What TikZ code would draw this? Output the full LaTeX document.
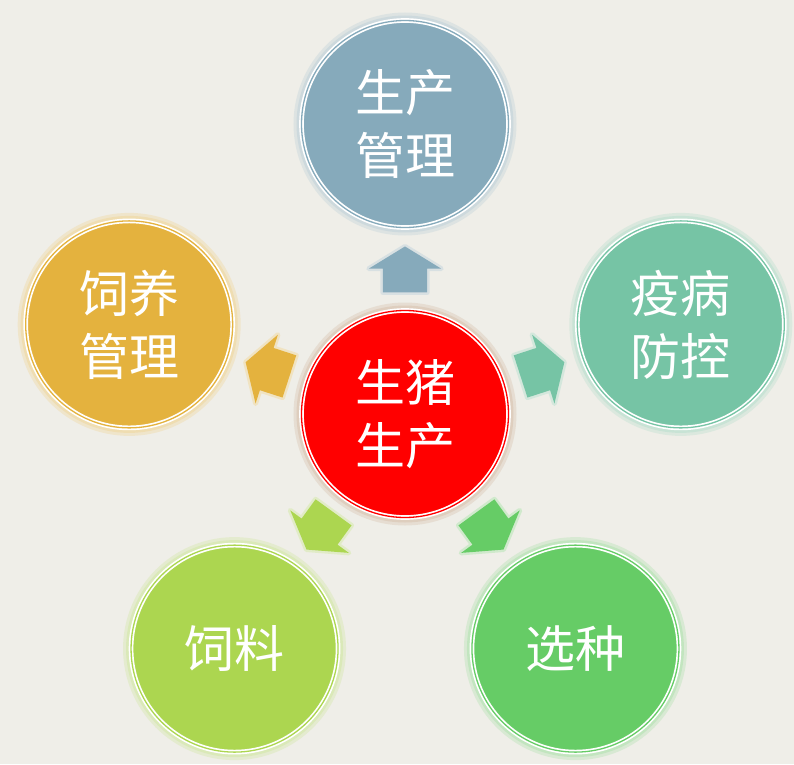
\documentclass[tikz,border=0pt]{standalone}
\usepackage{fontspec}
\newfontfamily\cjk{Noto Sans CJK SC}
\usepackage{tikz}
\usetikzlibrary{shapes.arrows,calc}
\definecolor{paper}{HTML}{EFEEE8}
\definecolor{pigred}{HTML}{FF0000}
\definecolor{halotan}{HTML}{D2B8A0}
\definecolor{prodblue}{HTML}{86AABB}
\definecolor{vetteal}{HTML}{76C4A5}
\definecolor{feedgold}{HTML}{E4B23E}
\definecolor{fodderlime}{HTML}{ACD650}
\definecolor{breedgreen}{HTML}{66CC66}

\begin{document}
\begin{tikzpicture}
[
x=1pt, y=1pt,
ring/.style 2 args={circle, fill=#1, minimum size=207pt, inner sep=0pt, text=white, align=center,
  font=\cjk\fontsize{50}{63}\selectfont, draw=white, line width=1.7pt, double=#1, double distance=1.3pt,
  preaction={draw=#2, draw opacity=.3, line width=16pt},
  preaction={draw=#2, draw opacity=.4, line width=10pt}},
hub/.style={ring={pigred}{halotan}},
spoke/.style={ring={#1}{#1!60}},
push/.style={single arrow, fill=#1, minimum height=46pt, inner xsep=0pt, inner ysep=22pt,
  single arrow head extend=14pt, single arrow tip angle=117, line join=round,
  preaction={draw=#1!50, draw opacity=.5, line width=5pt}}
]
\fill[paper] (-405,-350) rectangle (389,414);
\useasboundingbox (-405,-350) rectangle (389,414);

%Nodes
\node[hub]                (pig)                 {生猪\\生产};
\node[spoke=prodblue]     (prod)   at (90:290)  {生产\\管理};
\node[spoke=vetteal]      (vet)    at (18:290)  {疫病\\防控};
\node[spoke=feedgold]     (care)   at (162:290) {饲养\\管理};
\node[spoke=fodderlime]   (fodder) at (234:290) {饲料};
\node[spoke=breedgreen]   (breed)  at (306:290) {选种};

%Lines
\node[push=prodblue,   rotate=90]  (toprod)   at ($(pig)!.475!(prod)$)   {};
\node[push=vetteal,    rotate=18]  (tovet)    at ($(pig)!.475!(vet)$)    {};
\node[push=feedgold,   rotate=162] (tocare)   at ($(pig)!.475!(care)$)   {};
\node[push=fodderlime, rotate=234] (tofodder) at ($(pig)!.475!(fodder)$) {};
\node[push=breedgreen, rotate=306] (tobreed)  at ($(pig)!.475!(breed)$)  {};
\end{tikzpicture}
\end{document}
